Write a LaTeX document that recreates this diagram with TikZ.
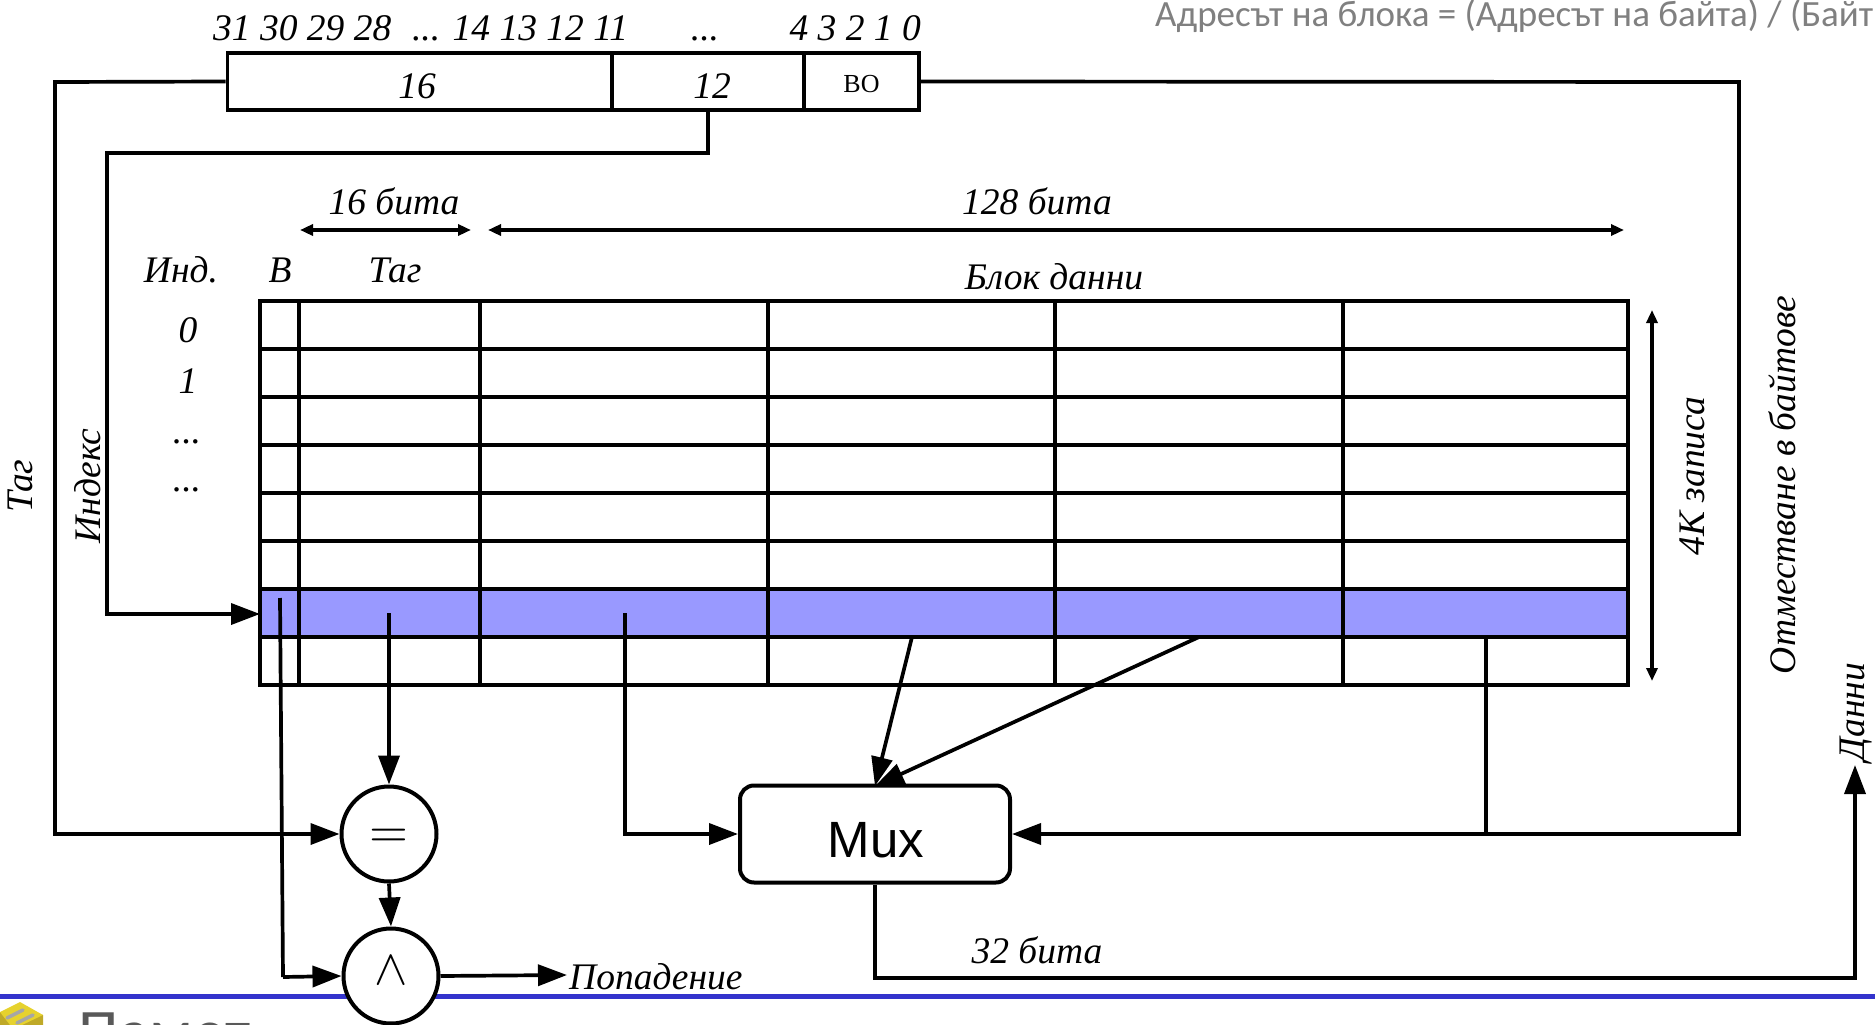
\documentclass[tikz,border=0pt]{standalone}
\usepackage{fontspec}
\setmainfont{Liberation Serif}
\newfontfamily\headfont{Carlito}
\newfontfamily\muxfont{Liberation Sans}
\usepackage{xcolor}
\usepackage{graphicx}
\usetikzlibrary{positioning, arrows.meta}
\definecolor{hitblue}{HTML}{9999FF}
\definecolor{barblue}{HTML}{3333CC}
\definecolor{iconyel}{HTML}{E6D22E}
\definecolor{iconside}{HTML}{BFA928}

\begin{document}
\begin{tikzpicture}[
  x=1pt, y=-1pt,
  font=\fontsize{37.5}{40}\selectfont\itshape,
  field/.style={draw, line width=3.7pt, minimum height=57pt, inner sep=0pt},
  gate/.style={draw, circle, line width=4pt, minimum size=95pt, inner sep=0pt, fill=white},
  gsym/.style={inner sep=0pt, font=\normalsize},
  lbl/.style={inner sep=0pt},
  vlbl/.style={inner sep=0pt, rotate=90},
  line/.style={line width=3.7pt},
  arr/.style={-{Triangle[length=29pt,width=21pt]}, line width=3.7pt},
  dim/.style={{Triangle[length=13pt,width=11pt]}-{Triangle[length=13pt,width=11pt]}, line width=3.3pt}
]
\useasboundingbox (0,0) rectangle (1875,1025);
% title and footer
\node[lbl, anchor=base west, text=gray, font=\headfont\fontsize{37}{40}\selectfont] (title) at (1155,27) {Адресът на блока = (Адресът на байта) / (Байт};
\draw[barblue, line width=4.5pt] (0,996.5) -- (1875,996.5);
\node[lbl, anchor=base west, text=black!65, font=\headfont\fontsize{65}{68}\selectfont] (foot) at (78,1054) {Памет};
\fill[iconside] (0,1025) -- (0,1012) -- (43,1015) -- (43,1025) -- cycle;
\fill[iconyel] (0,1012) -- (20,1002) -- (43,1015) -- (22,1025) -- (10,1025) -- cycle;
\draw[gray!70, line width=3.5pt, line cap=round] (7,1018) -- (23,1010);
\draw[gray!70, line width=3.5pt, line cap=round] (17,1023) -- (33,1015);
% address fields
\node[lbl, anchor=base west] (bitshi) at (213,41) {31 30 29 28 \ \kern2pt... 14 13 12 11};
\node[lbl, anchor=base] (bitsmid) at (705,41) {...};
\node[lbl, anchor=base east] (bitslo) at (921,41) {4 3 2 1 0};
\node[field, minimum width=384pt] (ftag) at (419.5,81.5) {};
\node[field, minimum width=192pt] (fidx) at (708,81.5) {};
\node[field, minimum width=115pt] (fbo) at (861.5,81.5) {};
\node[lbl] (t16) at (417,86) {16};
\node[lbl] (t12) at (712,86) {12};
\node[lbl, font=\fontsize{26}{30}\selectfont] (tbo) at (861.5,84) {ВО};
% table
\node[lbl, anchor=base] (szt) at (394,214) {16 бита};
\node[lbl, anchor=base] (szd) at (1037,214) {128 бита};
\coordinate (sztl) at (300,230);
\coordinate (sztr) at (471,230);
\coordinate (szdl) at (488,230);
\coordinate (szdr) at (1624,230);
\draw[dim] (sztl) -- (sztr);
\draw[dim] (szdl) -- (szdr);
\node[lbl, anchor=base] (hind) at (181,282) {Инд.};
\node[lbl, anchor=base] (hv) at (280,282) {В};
\node[lbl, anchor=base] (htag) at (395,282) {Таг};
\node[lbl, anchor=base] (hdata) at (1054,289) {Блок данни};
\node[lbl, anchor=base] (i0) at (188,342) {0};
\node[lbl, anchor=base] (i1) at (188,393) {1};
\node[lbl, anchor=base] (i2) at (187,443) {...};
\node[lbl, anchor=base] (i3) at (187,491) {...};
\node[fill=hitblue, inner sep=0pt, minimum width=1368pt, minimum height=48pt] (hitrow) at (944,613) {};
\foreach \y in {349,397,445,493,541,589,637}
  \draw[line] (260,\y) -- (1628,\y);
\foreach \x in {299,480,768,1055,1343}
  \draw[line] (\x,301) -- (\x,685);
\draw[line] (260,301) rectangle (1628,685);
\coordinate (ktop) at (1652,310);
\coordinate (kbot) at (1652,681);
\draw[dim] (ktop) -- (kbot);
\node[vlbl] (kl) at (1692,476) {4К записа};
\node[vlbl] (ofs) at (1782,485) {Отместване в байтове};
\node[vlbl] (dat) at (1856,712) {Данни};
\node[vlbl] (wtag) at (20,486) {Таг};
\node[vlbl] (widx) at (88,486) {Индекс};
% gates
\node[gate] (eq) at (389,834) {};
\node[gsym] (eqs) at (389,838) {\scalebox{5}{$=$}};
\node[gate] (andg) at (391,976) {};
\node[gsym] (ands) at (391,971) {\scalebox{5}{$\wedge$}};
\node[draw, line width=4pt, rounded corners=14pt, minimum width=270pt, minimum height=97pt, inner sep=0pt] (mux) at (875,834) {};
\node[lbl, font=\muxfont\fontsize{51}{51}\selectfont] (muxt) at (876,840) {Mux};
\node[lbl, anchor=base west] (hit) at (569,989) {Попадение};
\node[lbl, anchor=base] (w32) at (1037,963) {32 бита};
% tag and index wires
\coordinate (tagc) at (55,82);
\coordinate (idxc) at (107,153);
\coordinate (idxt) at (260,614);
\draw[arr] (ftag.west) -- (tagc) |- (eq.west);
\draw[arr] (fidx.south) |- (idxc) |- (idxt);
% taps from the selected row
\coordinate (vtap) at (280,598);
\coordinate (vc) at (283,977);
\coordinate (ttap) at (389,613);
\coordinate (dtap) at (625,613);
\coordinate (d1) at (912,637);
\coordinate (d2) at (1199,637);
\coordinate (mt) at (875,786);
\coordinate (d3) at (1486,637);
\coordinate (d3c) at (1486,834);
\coordinate (hitw) at (567,975);
\draw[line] (vtap) -- (vc);
\draw[arr] (vc) -- (andg.west);
\draw[arr] (ttap) -- (eq.north);
\draw[arr] (eq.south) -- (andg.north);
\draw[arr] (andg.east) -- (hitw);
\draw[arr] (dtap) |- (mux.west);
\draw[arr] (d1) -- (mt);
\draw[arr] (d2) -- (mt);
\draw[line] (d3) -- (d3c);
% block offset and output
\coordinate (ofsc) at (1739,82);
\draw[arr] (fbo.east) -- (ofsc) |- (mux.east);
\coordinate (outb) at (875,978);
\coordinate (outc) at (1855,978);
\coordinate (outt) at (1855,765);
\draw[arr] (mux.south) -- (outb) -- (outc) -- (outt);
\end{tikzpicture}
\end{document}
